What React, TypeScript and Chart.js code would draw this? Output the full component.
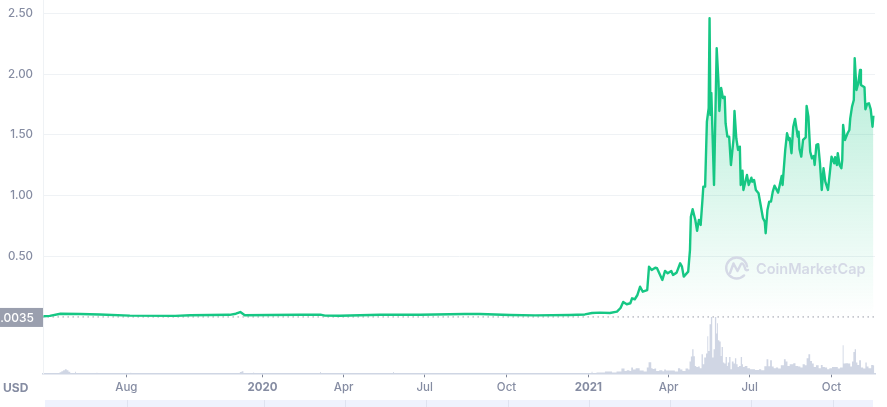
import { useEffect, useRef } from 'react';
import { Chart, registerables } from 'chart.js';

Chart.register(...registerables);

// x values are days counted from 1 May 2019
const tickDays = [92, 245, 336, 427, 519, 611, 701, 792, 884];
const tickLabels = ['Aug', '2020', 'Apr', 'Jul', 'Oct', '2021', 'Apr', 'Jul', 'Oct'];
const boldLabels = ['2020', '2021'];
const priceTicks = [0.5, 1, 1.5, 2, 2.5];
const openPrice = 0.0035;

const priceDays = [
  -1, 6, 18, 40, 62, 96, 147, 164, 208, 215, 220, 225, 253, 287, 310, 315, 332, 377, 422, 472, 489, 523, 551, 590, 607, 615, 624,
  635, 643, 647, 650, 654, 658, 660, 663, 666, 669, 672, 677, 679, 682, 686, 688, 694, 697, 700, 704, 706, 710, 714, 716, 718, 723,
  725, 726, 728, 731, 733, 735, 737, 739, 740, 742, 744, 746, 747, 748, 749, 752, 755, 757, 758, 760, 762, 764, 765, 767, 769, 771,
  774, 775, 777, 779, 781, 782, 784, 785, 789, 791, 794, 795, 797, 799, 802, 805, 807, 809, 810, 812, 814, 816, 818, 820, 824, 828,
  829, 832, 834, 836, 837, 839, 841, 843, 846, 847, 848, 850, 852, 855, 856, 858, 860, 862, 864, 865, 867, 869, 871, 873, 875, 877,
  880, 882, 884, 887, 888, 890, 891, 893, 895, 896, 897, 899, 902, 904, 905, 907, 909, 910, 912, 914, 916, 917, 921, 922, 924, 926,
  928, 930, 931,
];
const priceValues = [
  0.009, 0.012, 0.03, 0.028, 0.024, 0.014, 0.012, 0.017, 0.021, 0.03, 0.044, 0.018, 0.02, 0.022, 0.022, 0.014, 0.013, 0.022, 0.022,
  0.028, 0.028, 0.02, 0.016, 0.02, 0.024, 0.036, 0.039, 0.036, 0.047, 0.077, 0.127, 0.108, 0.116, 0.157, 0.149, 0.184, 0.252, 0.211,
  0.225, 0.417, 0.39, 0.409, 0.404, 0.308, 0.382, 0.363, 0.382, 0.349, 0.368, 0.445, 0.417, 0.335, 0.376, 0.554, 0.828, 0.889, 0.801,
  0.711, 0.801, 0.76, 0.965, 1.075, 1.075, 1.609, 1.72, 2.46, 1.665, 1.845, 1.089, 2.213, 1.938, 1.697, 1.887, 1.804, 1.815, 1.595,
  1.486, 1.486, 1.253, 1.473, 1.697, 1.473, 1.377, 1.404, 1.089, 1.206, 1.048, 1.171, 1.089, 1.149, 1.116, 1.13, 1.048, 1.021, 0.897,
  0.815, 0.787, 0.692, 0.883, 0.952, 0.952, 1.034, 1.083, 1.026, 1.163, 1.089, 1.377, 1.514, 1.459, 1.475, 1.35, 1.568, 1.632, 1.486,
  1.527, 1.385, 1.322, 1.459, 1.481, 1.739, 1.651, 1.363, 1.308, 1.327, 1.253, 1.418, 1.424, 1.267, 1.048, 1.226, 1.116, 1.048, 1.185,
  1.322, 1.267, 1.317, 1.253, 1.35, 1.253, 1.226, 1.294, 1.582, 1.459, 1.514, 1.541, 1.637, 1.733, 1.788, 2.131, 1.87, 1.925, 2.035,
  1.911, 1.892, 1.711, 1.755, 1.76, 1.711, 1.568, 1.659,
];

const volumeDays = [
  -1, 16, 18, 20, 22, 24, 26, 28, 30, 34, 35, 36, 58, 59, 60, 96, 97, 98, 219, 220, 223, 224, 234, 235, 236, 309, 310, 311, 391, 392,
  393, 614, 615, 616, 624, 635, 640, 645, 651, 652, 656, 658, 660, 662, 666, 671, 675, 678, 679, 681, 682, 684, 686, 688, 693, 695, 697,
  699, 706, 710, 713, 715, 718, 722, 724, 725, 727, 728, 730, 731, 733, 735, 737, 739, 740, 742, 744, 745, 746, 748, 749, 751, 752, 754,
  755, 756, 757, 759, 760, 761, 763, 764, 766, 767, 768, 770, 771, 773, 775, 776, 778, 779, 781, 783, 784, 785, 788, 791, 794, 802, 803,
  807, 810, 812, 814, 816, 818, 820, 823, 825, 829, 832, 833, 836, 838, 840, 842, 845, 848, 850, 853, 855, 857, 859, 861, 863, 865, 868,
  871, 873, 875, 878, 880, 883, 886, 890, 892, 895, 896, 897, 898, 901, 904, 906, 908, 909, 911, 912, 914, 916, 918, 921, 923, 924, 927,
  930, 932,
];
const volumeValues = [
  0.03, 0.03, 0.25, 0.5, 0.75, 1, 0.75, 0.4, 0.05, 0.03, 0.4, 0.03, 0.03, 0.15, 0.03, 0.03, 0.15, 0.03, 0.03, 0.3, 0.5, 0.03, 0.03, 0.2,
  0.03, 0.03, 0.3, 0.03, 0.03, 0.3, 0.03, 0.03, 0.4, 0.1, 0.18, 0.43, 0.18, 0.43, 1.18, 0.58, 0.75, 0.58, 1.43, 0.93, 1.25, 0.68, 0.43,
  1.43, 2.75, 2.75, 1.25, 1.08, 1.18, 0.58, 0.75, 0.5, 0.93, 0.68, 0.68, 0.43, 1.25, 0.93, 0.58, 1.18, 0.93, 2.93, 4.18, 6, 4.25, 1.83,
  1.58, 1.68, 1.25, 4.75, 2.25, 3.93, 4.93, 9.25, 5.58, 12.25, 14.08, 3.93, 6, 14.08, 9.93, 12.5, 8.25, 7.93, 4.33, 6.58, 2.68, 2.43,
  4.08, 1.83, 2.68, 4.08, 1, 2.93, 2.43, 3.75, 2.25, 1.58, 1.83, 4.08, 2.25, 1.58, 1.83, 1.25, 1, 0.83, 1, 0.75, 1.75, 3.5, 1.75, 3.25,
  1.68, 1.25, 1.43, 1.18, 2, 3.5, 2.93, 1.83, 2.25, 2.25, 2.5, 1.83, 1.68, 1.43, 2.25, 2, 3.75, 4.75, 3.08, 2.43, 1.58, 2, 1.25, 2.08,
  1.58, 1.43, 1, 1.25, 1.58, 1.58, 1.18, 1.43, 1.43, 7, 2.43, 2.5, 2.43, 1.68, 2.93, 5.33, 6, 2.68, 2.08, 3.25, 1.43, 1.18, 2.68, 1.68,
  1.25, 2.08, 1.93,
];

const FONT = 'Inter';
const GREEN = '#16c784';
const GREY = '#858ca2';
const LOGO = '#d5d9e6';

// everything around the plot that is not an axis: price tag, watermark, USD, navigator strip
const extrasPlugin = {
  id: 'extras',
  afterDraw(chart: any) {
    const { ctx, scales } = chart;
    const x = scales.x;
    const y = scales.y;
    ctx.save();

    // opening price tag
    const tagY = y.getPixelForValue(openPrice);
    ctx.fillStyle = '#9a9fae';
    ctx.fillRect(0, tagY - 9, 43, 19);
    ctx.fillStyle = '#ffffff';
    ctx.font = `500 12px ${FONT}`;
    ctx.textAlign = 'right';
    ctx.textBaseline = 'middle';
    ctx.fillText(String(openPrice), 34, tagY + 1);

    ctx.fillStyle = GREY;
    ctx.font = `700 12px ${FONT}`;
    ctx.textAlign = 'left';
    ctx.fillText('USD', 3, 388);

    // watermark
    ctx.strokeStyle = LOGO;
    ctx.lineWidth = 2.4;
    ctx.lineCap = 'round';
    ctx.lineJoin = 'round';
    ctx.beginPath();
    ctx.arc(736.7, 268, 10.5, 0.25 * Math.PI, 1.95 * Math.PI, false);
    ctx.stroke();
    ctx.beginPath();
    ctx.moveTo(730, 273);
    ctx.lineTo(733.5, 263.5);
    ctx.lineTo(737.5, 271);
    ctx.lineTo(741, 264);
    ctx.quadraticCurveTo(743, 262, 745, 268);
    ctx.quadraticCurveTo(745.5, 271, 748, 270);
    ctx.stroke();
    ctx.fillStyle = LOGO;
    ctx.font = `600 14.5px ${FONT}`;
    ctx.textBaseline = 'alphabetic';
    ctx.fillText('CoinMarketCap', 756, 274);

    // navigator strip under the axis
    ctx.fillStyle = '#eff2fd';
    ctx.fillRect(45, 400, 828, 7);
    ctx.fillStyle = '#dfe3f0';
    tickDays.forEach((d) => {
      ctx.fillRect(Math.round(x.getPixelForValue(d)) + 1, 400, 1, 7);
    });
    ctx.restore();
  },
};

export default function App() {
  const canvasRef = useRef<HTMLCanvasElement>(null);

  useEffect(() => {
    if (!canvasRef.current) return;
    const chart = new Chart(canvasRef.current, {
      type: 'line',
      data: {
        datasets: [
          {
            label: 'Open',
            data: [
              { x: -2, y: openPrice },
              { x: 933, y: openPrice },
            ],
            yAxisID: 'y',
            borderColor: '#5f667a',
            borderWidth: 1,
            borderDash: [1, 4],
            pointRadius: 0,
            order: 2,
          },
          {
            label: 'Price',
            data: priceDays.map((d, i) => ({ x: d, y: priceValues[i] })),
            yAxisID: 'y',
            borderColor: GREEN,
            borderWidth: 2.4,
            borderJoinStyle: 'round',
            pointRadius: 0,
            tension: 0,
            fill: { value: openPrice },
            backgroundColor: (c: any) => {
              const { ctx, chartArea, scales } = c.chart;
              if (!chartArea) return 'transparent';
              const g = ctx.createLinearGradient(0, scales.y.getPixelForValue(2.46), 0, scales.y.getPixelForValue(0));
              g.addColorStop(0, 'rgba(22,199,132,0.36)');
              g.addColorStop(1, 'rgba(22,199,132,0)');
              return g;
            },
            order: 1,
          },
          {
            label: 'Volume',
            data: volumeDays.map((d, i) => ({ x: d, y: volumeValues[i] })),
            yAxisID: 'vol',
            stepped: 'middle',
            borderWidth: 0,
            pointRadius: 0,
            fill: 'origin',
            backgroundColor: '#d0d6e4',
            order: 3,
          },
        ] as any,
      },
      options: {
        responsive: false,
        animation: false,
        layout: { padding: { right: 12, top: 0, left: 0, bottom: 0 } },
        plugins: { legend: { display: false }, tooltip: { enabled: false } },
        scales: {
          x: {
            type: 'linear',
            min: -1.6,
            max: 932.8,
            afterBuildTicks: (s: any) => {
              s.ticks = tickDays.map((value) => ({ value }));
            },
            afterFit: (s: any) => {
              s.height = 33.7;
              s.paddingLeft = 0;
              s.paddingRight = 0;
            },
            border: { color: '#cfd6e4', width: 1.5 },
            grid: { drawOnChartArea: false, drawTicks: true, tickLength: 4, tickColor: '#7d8497' },
            ticks: {
              autoSkip: false,
              maxRotation: 0,
              padding: 3,
              color: GREY,
              callback: (v: any) => tickLabels[tickDays.indexOf(v)],
              font: (c: any) => ({
                family: FONT,
                size: 11.5,
                weight: boldLabels.includes(tickLabels[tickDays.indexOf(c.tick?.value)]) ? 700 : 500,
              }),
            },
          },
          y: {
            type: 'linear',
            position: 'left',
            min: -0.46,
            max: 2.61,
            afterBuildTicks: (s: any) => {
              s.ticks = priceTicks.map((value) => ({ value }));
            },
            afterFit: (s: any) => {
              s.width = 43;
              s.paddingTop = 0;
              s.paddingBottom = 0;
            },
            border: { color: '#eff2f5' },
            grid: { color: '#eff2f5', drawTicks: false },
            ticks: {
              padding: 10,
              color: GREY,
              font: { family: FONT, size: 11.5, weight: 500 },
              callback: (v: any) => Number(v).toFixed(2),
            },
          },
          vol: {
            type: 'linear',
            display: false,
            min: 0,
            max: 93.3,
          },
        },
      },
      plugins: [extrasPlugin],
    } as any);
    return () => chart.destroy();
  }, []);

  return (
    <div style={{ position: 'fixed', left: 0, top: 0, width: 887, height: 407, background: '#fff' }}>
      <canvas ref={canvasRef} width={887} height={407} style={{ display: 'block' }} />
    </div>
  );
}
